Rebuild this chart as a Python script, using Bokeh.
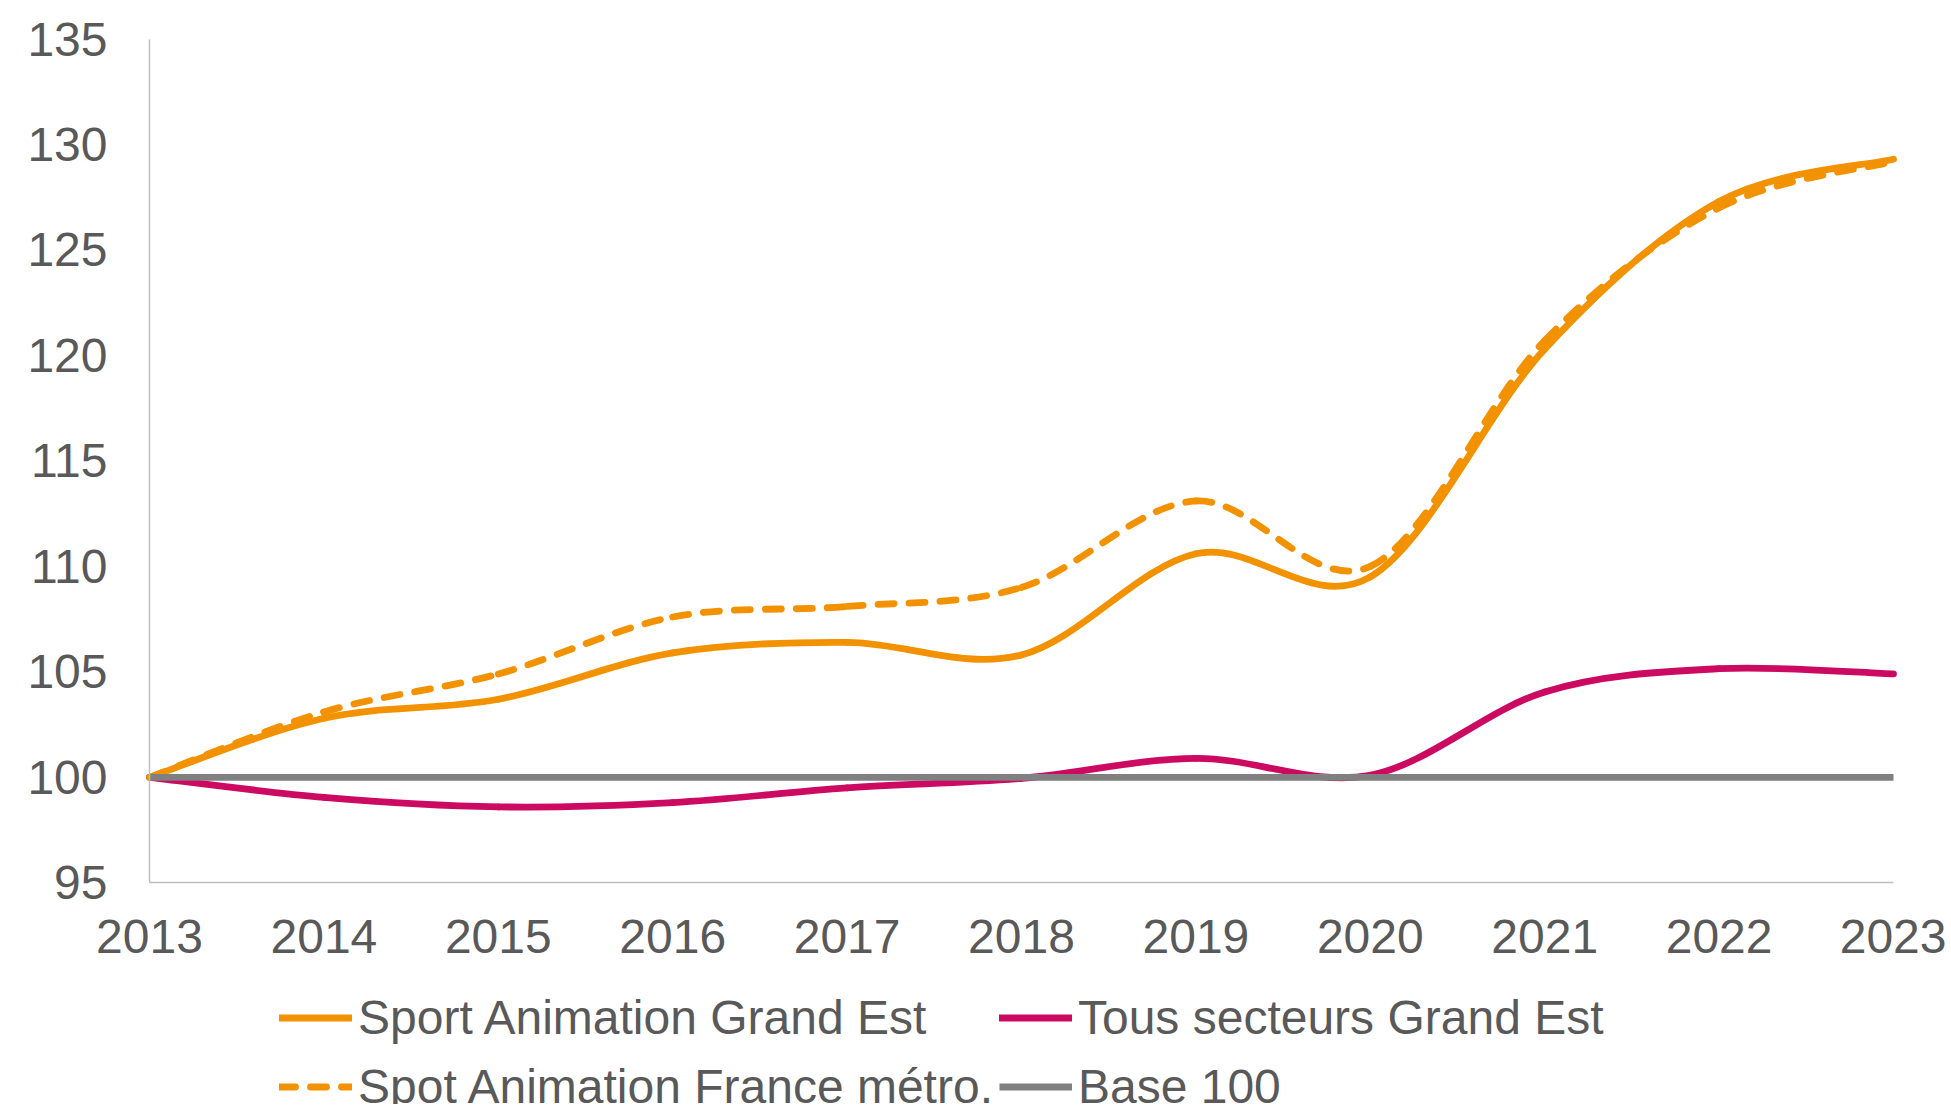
from bokeh.plotting import figure
from bokeh.models import Range1d, Legend, LegendItem, FixedTicker, ColumnDataSource
from bokeh.embed import file_html
from bokeh.resources import INLINE

# ---- data ----
years = [2013, 2014, 2015, 2016, 2017, 2018, 2019, 2020, 2021, 2022, 2023]
sport_grand_est = [100.0, 102.8, 103.7, 105.9, 106.4, 105.8, 110.6, 109.5, 120.3, 127.3, 129.3]
tous_secteurs_grand_est = [100.0, 99.05, 98.6, 98.8, 99.5, 99.95, 100.9, 100.1, 104.05, 105.15, 104.9]
spot_france_metro = [100.0, 103.1, 104.9, 107.6, 108.1, 109.0, 113.1, 110.0, 120.7, 127.0, 129.2]
base_100 = [100.0] * len(years)
y_ticks = [95, 100, 105, 110, 115, 120, 125, 130, 135]
y_min, y_max = 95, 135

labels = ["Sport Animation Grand Est", "Tous secteurs Grand Est",
          "Spot Animation France métro.", "Base 100"]

ORANGE = "#F39200"
PINK = "#CC0A62"
GREY = "#808080"
TEXT = "#595959"
AXIS = "#BFBFBF"
FONT = "Liberation Sans"

# ---- layout (canvas pixels) ----
W, H = 1946, 1104
X_LEFT_PX, X_RIGHT_PX = 149, 1893     # where the first / last year sit
Y_TOP_PX, Y_BOT_PX = 38.5, 882.3      # where 135 / 95 sit
px_per_x = (X_RIGHT_PX - X_LEFT_PX) / (years[-1] - years[0])
px_per_y = (Y_BOT_PX - Y_TOP_PX) / (y_max - y_min)
x_start = years[0] - X_LEFT_PX / px_per_x
x_end = years[0] + (W - X_LEFT_PX) / px_per_x
y_end = y_max + Y_TOP_PX / px_per_y
y_start = y_max - (H - Y_TOP_PX) / px_per_y

LEG_X = 279          # left of first legend swatch
ROW1_CY = 1017       # centre of first legend row
ROW_H, ROW_GAP = 63, 6
leg_h = 2 * ROW_H + ROW_GAP
leg_vy = H - (ROW1_CY - ROW_H / 2 + leg_h)


def smooth_source(xs, ys):
    """Bezier control points for a smoothed (Catmull-Rom style) line through the data."""
    n = len(xs)
    d = dict(x0=[], y0=[], x1=[], y1=[], cx0=[], cy0=[], cx1=[], cy1=[])
    for i in range(n - 1):
        p0 = i - 1 if i > 0 else i
        p3 = i + 2 if i + 2 < n else i + 1
        d["x0"].append(xs[i]); d["y0"].append(ys[i])
        d["x1"].append(xs[i + 1]); d["y1"].append(ys[i + 1])
        d["cx0"].append(xs[i] + (xs[i + 1] - xs[p0]) / 6)
        d["cy0"].append(ys[i] + (ys[i + 1] - ys[p0]) / 6)
        d["cx1"].append(xs[i + 1] - (xs[p3] - xs[i]) / 6)
        d["cy1"].append(ys[i + 1] - (ys[p3] - ys[i]) / 6)
    return ColumnDataSource(d)


p = figure(width=W, height=H,
           x_range=Range1d(x_start, x_end), y_range=Range1d(y_start, y_end),
           output_backend="svg", toolbar_location=None,
           min_border_left=0, min_border_right=0,
           min_border_top=0, min_border_bottom=0)
p.outline_line_color = None
p.xgrid.visible = False
p.ygrid.visible = False
p.background_fill_color = "white"
p.border_fill_color = "white"

LW = 6.8
BZ = dict(x0="x0", y0="y0", x1="x1", y1="y1", cx0="cx0", cy0="cy0", cx1="cx1", cy1="cy1")
r_sport = p.bezier(source=smooth_source(years, sport_grand_est),
                   line_color=ORANGE, line_width=LW, line_cap="round", **BZ)
r_tous = p.bezier(source=smooth_source(years, tous_secteurs_grand_est),
                  line_color=PINK, line_width=LW, line_cap="round", **BZ)
r_spot = p.bezier(source=smooth_source(years, spot_france_metro),
                  line_color=ORANGE, line_width=LW, line_cap="round", line_dash="16 15", **BZ)
r_base = p.line(x=years, y=base_100, line_color=GREY, line_width=LW)

# axes (drawn at fixed data positions inside the canvas-wide frame)
for ax in (p.xaxis[0], p.yaxis[0]):
    ax.axis_line_color = AXIS
    ax.axis_line_width = 1.5
    ax.major_tick_out = 0
    ax.major_tick_in = 0
    ax.minor_tick_out = 0
    ax.minor_tick_in = 0
    ax.major_tick_line_color = None
    ax.minor_tick_line_color = None
    ax.major_label_text_font = FONT
    ax.major_label_text_font_size = "48px"
    ax.major_label_text_color = TEXT

p.xaxis.ticker = FixedTicker(ticks=years)
p.xaxis.fixed_location = y_min
p.xaxis.bounds = (years[0], years[-1])
p.xaxis.major_label_standoff = 37
p.yaxis.ticker = FixedTicker(ticks=y_ticks)
p.yaxis.fixed_location = years[0]
p.yaxis.bounds = (y_min, y_max)
p.yaxis.major_label_standoff = 42

legend = Legend(items=[
    LegendItem(label=labels[0], renderers=[r_sport]),
    LegendItem(label=labels[1], renderers=[r_tous]),
    LegendItem(label=labels[2], renderers=[r_spot]),
    LegendItem(label=labels[3], renderers=[r_base]),
], orientation="horizontal", ncols=2,
    location=(LEG_X, leg_vy),
    label_text_font=FONT, label_text_font_size="48px", label_text_color=TEXT,
    glyph_width=73, glyph_height=ROW_H, label_height=ROW_H, label_standoff=6,
    spacing=ROW_GAP, padding=0, margin=0,
    background_fill_alpha=0, border_line_alpha=0)
p.add_layout(legend, "center")

open("out.html", "w").write(file_html(p, INLINE))
